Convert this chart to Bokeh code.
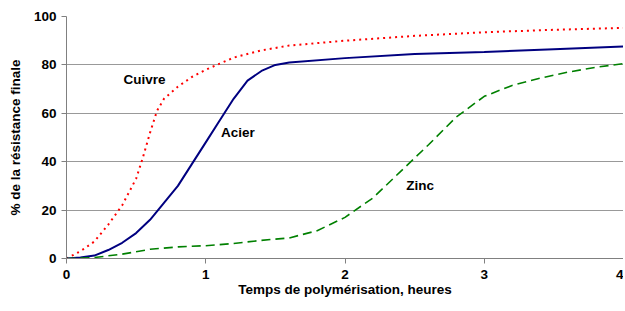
from bokeh.plotting import figure
from bokeh.models import FixedTicker, Label
from bokeh.embed import file_html
from bokeh.resources import INLINE

cuivre_x = [0, 0.1, 0.2, 0.3, 0.4, 0.5, 0.55, 0.6, 0.65, 0.7, 0.8, 0.9, 1.0, 1.1, 1.2, 1.4, 1.6, 1.8, 2.0, 2.5, 3.0, 3.5, 4.0]
cuivre_y = [0, 3, 7, 14, 22, 33, 42, 52, 61, 66, 71, 75, 78, 80.5, 83, 86, 88, 89, 90, 92, 93.5, 94.5, 95.3]

acier_x = [0, 0.1, 0.2, 0.3, 0.4, 0.5, 0.6, 0.7, 0.8, 0.9, 1.0, 1.1, 1.2, 1.3, 1.4, 1.5, 1.6, 2.0, 2.5, 3.0, 3.5, 4.0]
acier_y = [0, 0.4, 1.2, 3.5, 6.5, 10.5, 16, 23, 30, 39, 48, 57, 66, 73.5, 77.5, 80, 81, 82.8, 84.5, 85.3, 86.5, 87.6]

zinc_x = [0, 0.2, 0.4, 0.6, 0.8, 1.0, 1.2, 1.4, 1.6, 1.8, 2.0, 2.2, 2.4, 2.6, 2.8, 3.0, 3.2, 3.4, 3.6, 3.8, 4.0]
zinc_y = [0, 0.4, 1.8, 3.8, 4.8, 5.3, 6.2, 7.5, 8.5, 11.5, 17, 25, 36, 47, 58.5, 67, 71.5, 74.5, 77, 79, 80.5]

labels = ["Cuivre", "Acier", "Zinc"]
label_x = [0.56, 1.23, 2.54]
label_y = [74, 52, 30]

x_ticks = [0, 1, 2, 3, 4]
y_ticks = [0, 20, 40, 60, 80, 100]
x_title = "Temps de polymérisation, heures"
y_title = "% de la résistance finale"

p = figure(width=623, height=303, x_range=(0, 4), y_range=(0, 100),
           output_backend="svg", toolbar_location=None,
           min_border_left=66, min_border_right=0, min_border_top=16, min_border_bottom=45)
p.outline_line_color = None
p.background_fill_color = "white"

FONT = "Liberation Sans"
SIZE = "13.5px"
for ax in (p.xaxis[0], p.yaxis[0]):
    ax.major_label_text_font = FONT
    ax.major_label_text_font_style = "bold"
    ax.major_label_text_font_size = SIZE
    ax.major_label_text_color = "black"
    ax.axis_label_text_font = FONT
    ax.axis_label_text_font_style = "bold"
    ax.axis_label_text_font_size = SIZE
    ax.axis_label_text_color = "black"
    ax.axis_line_color = "#808080"
    ax.major_tick_line_color = "#808080"
    ax.minor_tick_line_color = None
    ax.major_tick_in = 0
    ax.major_tick_out = 5

p.xaxis.ticker = FixedTicker(ticks=x_ticks)
p.yaxis.ticker = FixedTicker(ticks=y_ticks)
p.xaxis.axis_label = x_title
p.yaxis.axis_label = y_title
p.xaxis.major_label_standoff = 6
p.xaxis.axis_label_standoff = 0
p.yaxis.major_label_standoff = 5
p.yaxis.axis_label_standoff = 8

p.xgrid.grid_line_color = None
p.ygrid.grid_line_color = "#999999"
p.ygrid.grid_line_width = 1

p.line(cuivre_x, cuivre_y, line_color="#ff0000", line_width=2, line_dash="2 4")
p.line(acier_x, acier_y, line_color="#000080", line_width=2)
p.line(zinc_x, zinc_y, line_color="#008000", line_width=1.6, line_dash="9 5")

for t, lx, ly in zip(labels, label_x, label_y):
    p.add_layout(Label(x=lx, y=ly, text=t, text_font=FONT, text_font_size=SIZE,
                       text_font_style="bold", text_color="black",
                       text_align="center", text_baseline="middle"))

open("out.html", "w").write(file_html(p, INLINE))
